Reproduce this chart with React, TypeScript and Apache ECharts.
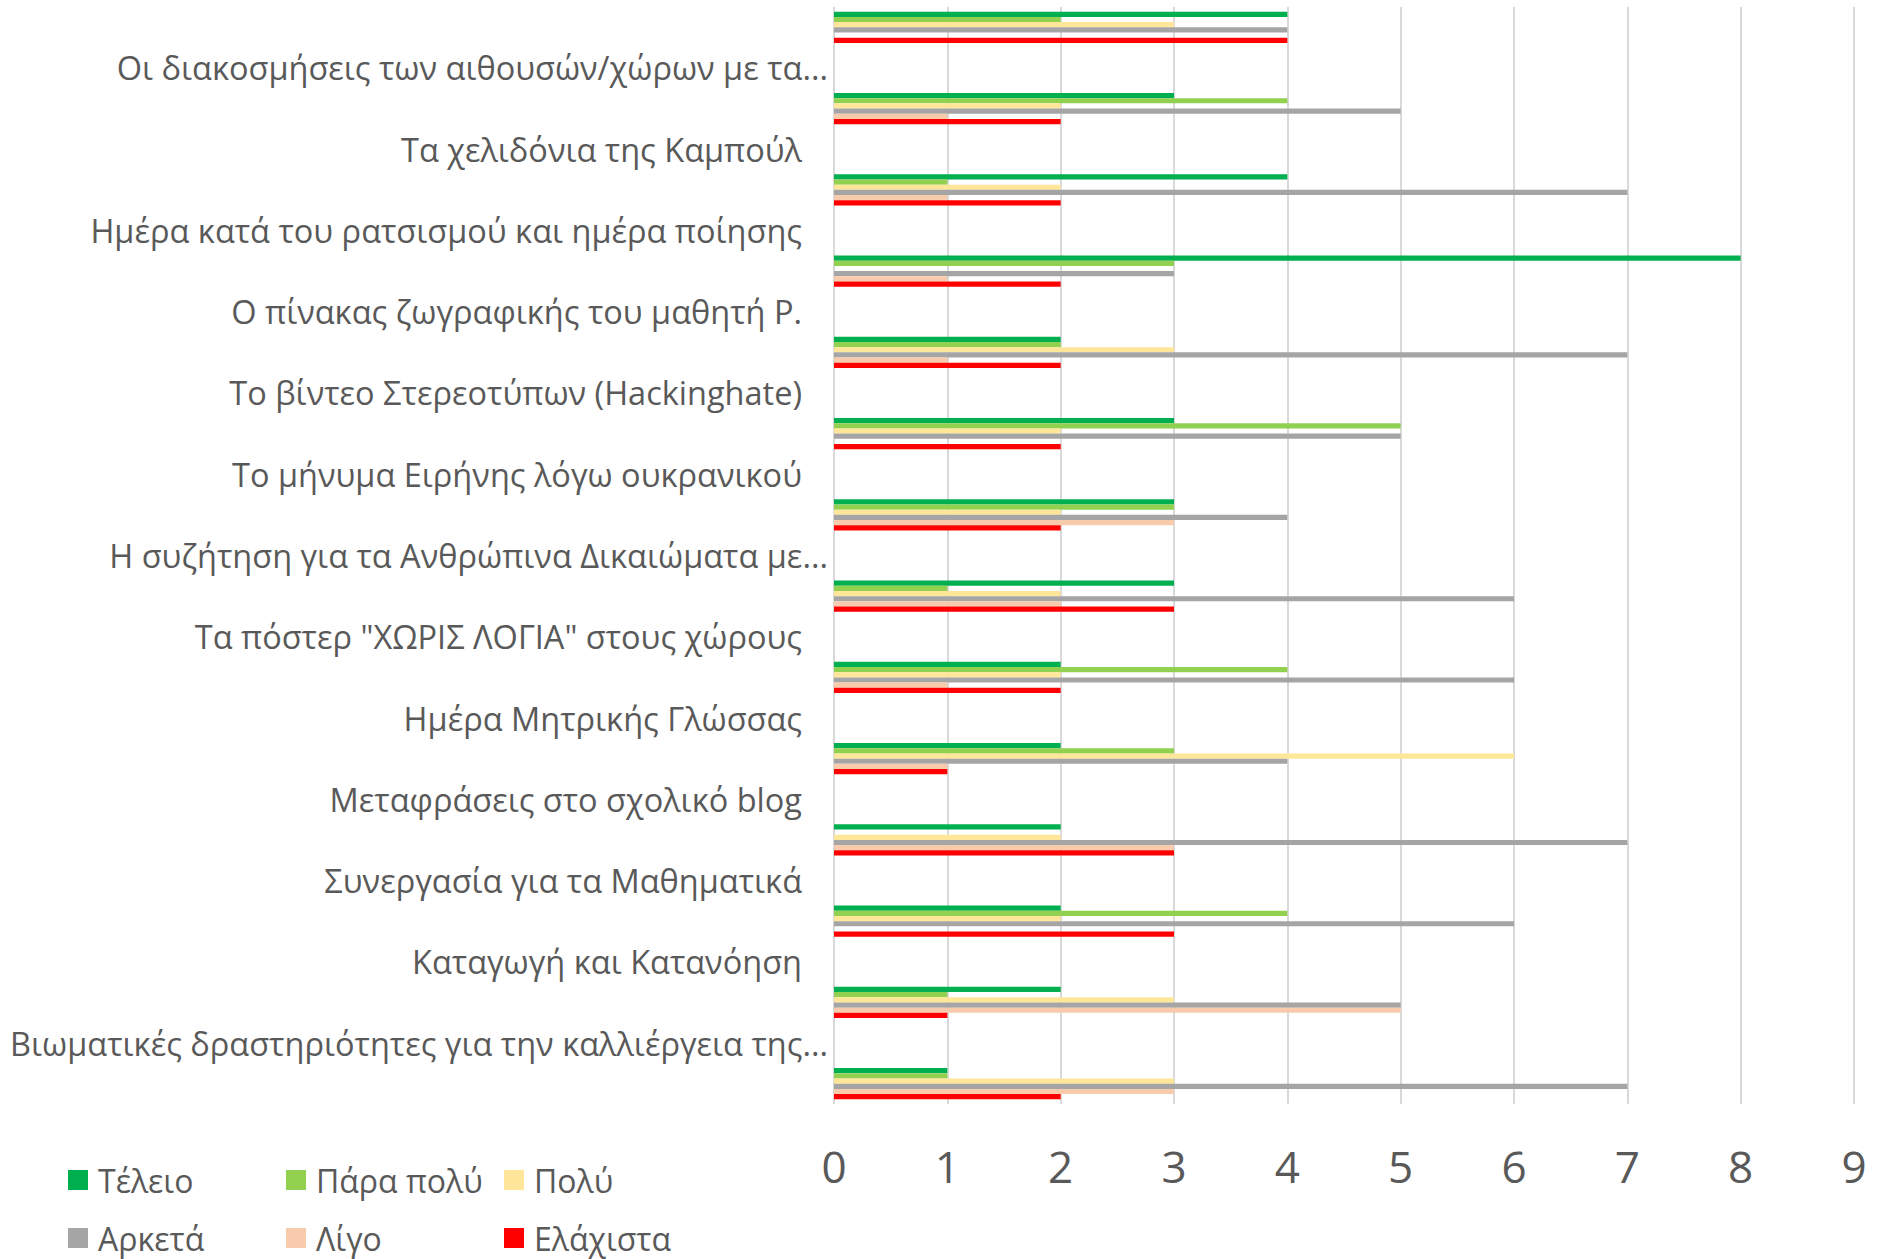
import React, { useEffect, useRef } from "react";
import * as echarts from "echarts";

const labels = [
  "Οι διακοσμήσεις των αιθουσών/χώρων με τα...",
  "Τα χελιδόνια της Καμπούλ",
  "Ημέρα κατά του ρατσισμού και ημέρα ποίησης",
  "Ο πίνακας ζωγραφικής του μαθητή Ρ.",
  "Το βίντεο Στερεοτύπων (Hackinghate)",
  "Το μήνυμα Ειρήνης λόγω ουκρανικού",
  "Η συζήτηση για τα Ανθρώπινα Δικαιώματα με...",
  "Τα πόστερ \"ΧΩΡΙΣ ΛΟΓΙΑ\" στους χώρους",
  "Ημέρα Μητρικής Γλώσσας",
  "Μεταφράσεις στο σχολικό blog",
  "Συνεργασία για τα Μαθηματικά",
  "Καταγωγή και Κατανόηση",
  "Βιωματικές δραστηριότητες για την καλλιέργεια της...",
];

const seriesNames = ["Τέλειο", "Πάρα πολύ", "Πολύ", "Αρκετά", "Λίγο", "Ελάχιστα"];
const seriesColors = ["#00B050", "#92D050", "#FFE699", "#A5A5A5", "#F8CBAD", "#FF0000"];

// 14 bar groups, top to bottom
const teleio = [4, 3, 4, 8, 2, 3, 3, 3, 2, 2, 2, 2, 2, 1];
const paraPoly = [2, 4, 1, 3, 2, 5, 3, 1, 4, 3, 0, 4, 1, 1];
const poly = [3, 2, 2, 0, 3, 2, 2, 2, 2, 6, 2, 2, 3, 3];
const arketa = [4, 5, 7, 3, 7, 5, 4, 6, 6, 4, 7, 6, 5, 7];
const ligo = [0, 1, 1, 1, 1, 0, 3, 2, 1, 1, 3, 0, 5, 3];
const elaxista = [4, 2, 2, 2, 2, 2, 2, 3, 2, 1, 3, 3, 1, 2];

const xTicks = [0, 1, 2, 3, 4, 5, 6, 7, 8, 9];

const FONT = "'Open Sans', 'Noto Sans', sans-serif";
const TEXT = "#595959";

export default function App() {
  const ref = useRef<HTMLDivElement>(null);

  useEffect(() => {
    if (!ref.current) return;
    const chart = echarts.init(ref.current, undefined, { renderer: "svg" });

    // interleave bar slots and label slots: bar0, label0, bar1, ..., label12, bar13
    const cats: string[] = [];
    const slotIsBar: number[] = [];
    const groups = teleio.length;
    for (let i = 0; i < groups; i++) {
      cats.push("__bar" + i);
      slotIsBar.push(i);
      if (i < labels.length) {
        cats.push(labels[i]);
        slotIsBar.push(-1);
      }
    }
    const all = [teleio, paraPoly, poly, arketa, ligo, elaxista];
    const toSlots = (arr: number[]) =>
      slotIsBar.map((g) => (g >= 0 ? arr[g] : "-"));

    const legends = seriesNames.map((name, i) => ({
      data: [name],
      left: 68 + (i % 3) * 218,
      top: i < 3 ? 1164 : 1222,
      padding: 0,
      itemWidth: 20,
      itemHeight: 20,
      icon: "rect",
      selectedMode: false,
      textStyle: { fontSize: 32, color: TEXT, fontFamily: FONT, padding: [0, 0, 0, 5] },
    }));

    const option: any = {
      animation: false,
      textStyle: { fontFamily: FONT },
      grid: { left: 834, right: 34, top: 7, bottom: 155, containLabel: false },
      xAxis: {
        type: "value",
        min: xTicks[0],
        max: xTicks[xTicks.length - 1],
        interval: 1,
        axisLine: { show: false },
        axisTick: { show: false },
        splitLine: { show: true, lineStyle: { color: "#D9D9D9", width: 2 } },
        axisLabel: { fontSize: 44, color: TEXT, margin: 40, fontFamily: FONT },
      },
      yAxis: {
        type: "category",
        inverse: true,
        data: cats,
        axisLine: { show: false },
        axisTick: { show: false },
        splitLine: { show: false },
        axisLabel: {
          interval: 0,
          margin: 6,
          fontSize: 32.5,
          color: TEXT,
          fontFamily: FONT,
          formatter: (v: string) => {
            if (v.startsWith("__bar")) return "";
            if (v.endsWith("...")) return v;
            return v + "{pad|}";
          },
          rich: { pad: { width: 26 } },
        },
      },
      legend: legends,
      series: all.map((arr, i) => ({
        name: seriesNames[i],
        type: "bar",
        data: toSlots(arr),
        barWidth: 5.2,
        barGap: "0%",
        itemStyle: { color: seriesColors[i] },
      })),
    };

    chart.setOption(option);
    return () => chart.dispose();
  }, []);

  return (
    <div
      ref={ref}
      style={{ position: "fixed", left: 0, top: 0, width: 1888, height: 1259, background: "#fff" }}
    />
  );
}
